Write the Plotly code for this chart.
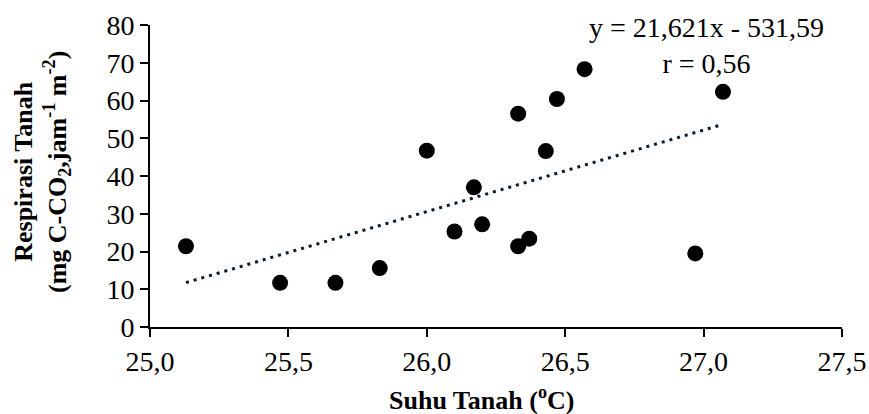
import plotly.graph_objects as go

suhu = [25.13, 25.47, 25.67, 25.83, 26.00, 26.10, 26.17, 26.20, 26.33, 26.33,
        26.37, 26.43, 26.47, 26.57, 26.97, 27.07]
respirasi = [21.4, 11.7, 11.7, 15.6, 46.7, 25.3, 37.0, 27.2, 21.4, 56.5,
             23.4, 46.6, 60.4, 68.3, 19.5, 62.3]
slope = 21.621
intercept = -531.59
r_value = "0,56"
x_ticks = [25.0, 25.5, 26.0, 26.5, 27.0, 27.5]
y_ticks = [0, 10, 20, 30, 40, 50, 60, 70, 80]

x_line = [min(suhu), max(suhu)]
y_line = [slope * v + intercept for v in x_line]

FONT = "Liberation Serif"
FS = 28
W, H = 869, 414
ML, MR, MT, MB = 150, 27, 25, 87
PLOT_H = H - MT - MB
PLOT_W = W - ML - MR

fig = go.Figure()
fig.add_trace(go.Scatter(x=x_line, y=y_line, mode="lines",
                         line=dict(color="#0b1a2e", width=3, dash="3px,5px"),
                         showlegend=False, hoverinfo="skip"))
fig.add_trace(go.Scatter(x=suhu, y=respirasi, mode="markers",
                         marker=dict(color="black", size=16),
                         showlegend=False))

fig.add_annotation(x=(706 - ML) / PLOT_W, y=1 - (45 - MT) / PLOT_H,
                   xref="paper", yref="paper",
                   text="y = 21,621x - 531,59<br>r = " + r_value,
                   showarrow=False, align="center",
                   font=dict(family=FONT, size=FS, color="black"),
                   xanchor="center", yanchor="middle")

fig.add_annotation(x=(481 - ML) / PLOT_W, y=-(399 - (H - MB)) / PLOT_H,
                   xref="paper", yref="paper",
                   text="<b>Suhu Tanah (<sup>o</sup>C)</b>",
                   showarrow=False, font=dict(family=FONT, size=FS - 2, color="black"),
                   xanchor="center", yanchor="middle")

fig.add_annotation(x=-(ML - 42) / PLOT_W, y=((H - MB) - 172) / PLOT_H,
                   xref="paper", yref="paper",
                   text="<b>Respirasi Tanah<br>(mg C-CO<sub>2</sub>,jam<sup>-1</sup> m<sup>-2</sup>)</b>",
                   showarrow=False, textangle=-90, align="center",
                   font=dict(family=FONT, size=FS - 2, color="black"),
                   xanchor="center", yanchor="middle")

fig.update_layout(
    width=W, height=H,
    margin=dict(l=ML, r=MR, t=MT, b=MB, autoexpand=False),
    paper_bgcolor="white", plot_bgcolor="white",
    separators=",.",
    font=dict(family=FONT, size=FS, color="black"),
    xaxis=dict(range=[25.0, 27.5], tickvals=x_ticks, tickformat=".1f",
               automargin=False,
               showgrid=False, zeroline=False, showline=True,
               linecolor="black", linewidth=1.8,
               ticks="outside", ticklen=8, tickcolor="black", tickwidth=1.8,
               tickfont=dict(family=FONT, size=FS)),
    yaxis=dict(range=[0, 80], tickvals=y_ticks, automargin=False,
               showgrid=False, zeroline=False, showline=True,
               linecolor="black", linewidth=1.8,
               ticks="outside", ticklen=8, tickcolor="black", tickwidth=1.8,
               tickfont=dict(family=FONT, size=FS)),
)

fig.write_html("out.html",
               config={"displayModeBar": False},
               post_script="document.body.style.margin='0px';"
                           "document.body.style.overflow='hidden';")
